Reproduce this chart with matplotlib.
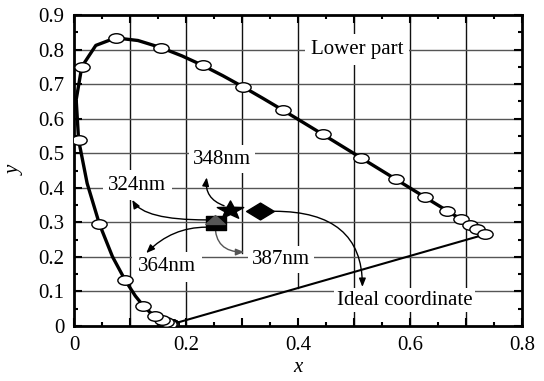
import numpy as np
import matplotlib
matplotlib.use("Agg")
import matplotlib.pyplot as plt
from matplotlib.path import Path
from matplotlib.transforms import Affine2D
from matplotlib.markers import MarkerStyle
from matplotlib.ticker import MultipleLocator, FuncFormatter

# CIE 1931 spectral locus, 380-700 nm (5 nm steps)
locus_nm = [380, 385, 390, 395, 400, 405, 410, 415, 420, 425, 430, 435, 440, 445,
            450, 455, 460, 465, 470, 475, 480, 485, 490, 495, 500, 505, 510, 515,
            520, 525, 530, 535, 540, 545, 550, 555, 560, 565, 570, 575, 580, 585,
            590, 595, 600, 605, 610, 615, 620, 625, 630, 635, 640, 645, 650, 655,
            660, 665, 670, 675, 680, 700]
locus_x = [0.1741, 0.1740, 0.1738, 0.1736, 0.1733, 0.1730, 0.1726, 0.1721, 0.1714,
           0.1703, 0.1689, 0.1669, 0.1644, 0.1611, 0.1566, 0.1510, 0.1440, 0.1355,
           0.1241, 0.1096, 0.0913, 0.0687, 0.0454, 0.0235, 0.0082, 0.0039, 0.0139,
           0.0389, 0.0743, 0.1142, 0.1547, 0.1929, 0.2296, 0.2658, 0.3016, 0.3373,
           0.3731, 0.4087, 0.4441, 0.4788, 0.5125, 0.5448, 0.5752, 0.6029, 0.6270,
           0.6482, 0.6658, 0.6801, 0.6915, 0.7006, 0.7079, 0.7140, 0.7190, 0.7230,
           0.7260, 0.7283, 0.7300, 0.7311, 0.7320, 0.7327, 0.7334, 0.7347]
locus_y = [0.0050, 0.0050, 0.0049, 0.0049, 0.0048, 0.0048, 0.0048, 0.0048, 0.0051,
           0.0058, 0.0069, 0.0086, 0.0109, 0.0138, 0.0177, 0.0227, 0.0297, 0.0399,
           0.0578, 0.0868, 0.1327, 0.2007, 0.2950, 0.4127, 0.5384, 0.6548, 0.7502,
           0.8120, 0.8338, 0.8262, 0.8059, 0.7816, 0.7543, 0.7243, 0.6923, 0.6589,
           0.6245, 0.5896, 0.5547, 0.5202, 0.4866, 0.4544, 0.4242, 0.3965, 0.3725,
           0.3514, 0.3340, 0.3197, 0.3083, 0.2993, 0.2920, 0.2859, 0.2809, 0.2770,
           0.2740, 0.2717, 0.2700, 0.2689, 0.2680, 0.2673, 0.2666, 0.2653]

# Wavelengths marked with open ellipses along the locus
marked_nm = [380, 390, 400, 410, 420, 430, 440, 450, 460, 470, 480, 490, 500, 510,
             520, 530, 540, 550, 560, 570, 580, 590, 600, 610, 620, 630, 640, 700]

# Chromaticity coordinates of the samples
sq_xy = (0.254, 0.297)      # 324 nm / 364 nm
tri_xy = (0.252, 0.305)     # 387 nm
star_xy = (0.279, 0.336)    # 348 nm
ideal_xy = (0.333, 0.332)   # ideal white

x_ticks = [0.0, 0.1, 0.2, 0.3, 0.4, 0.5, 0.6, 0.7, 0.8]
y_ticks = [0.0, 0.1, 0.2, 0.3, 0.4, 0.5, 0.6, 0.7, 0.8, 0.9]

plt.rcParams['font.family'] = ['Liberation Serif', 'DejaVu Serif']


def wide(path, sx):
    return MarkerStyle(path.transformed(Affine2D().scale(sx, 1.0)))


ellipse_m = wide(Path.unit_circle(), 1.6)
square_m = wide(Path.unit_rectangle().transformed(Affine2D().translate(-0.5, -0.5)), 1.6)
diamond_m = wide(Path([(0, 1), (1, 0), (0, -1), (-1, 0), (0, 1)],
                      [Path.MOVETO, Path.LINETO, Path.LINETO, Path.LINETO, Path.CLOSEPOLY]), 1.65)
star_m = wide(Path.unit_regular_star(5, 0.42), 1.45)
tri_m = wide(Path.unit_regular_polygon(3), 1.9)

fig = plt.figure(figsize=(5.44, 3.81), dpi=100)
ax = fig.add_axes([74 / 544, 1 - 326 / 381, 448 / 544, 311 / 381])
ax.set_xlim(0, 0.8)
ax.set_ylim(0, 0.9)

# Grid (two vertical lines stop short above the line of purples)
v_lo = {0.3: 0.21, 0.4: 0.11}
for v in x_ticks[1:-1]:
    ax.plot([v, v], [v_lo.get(round(v, 1), 0.0), 0.9], color='#111111', lw=1.0, zorder=1)
for v in y_ticks[1:-1]:
    ax.axhline(v, color='#555555', lw=1.0, zorder=1)

# Spectral locus and line of purples
ax.plot(locus_x, locus_y, color='black', lw=2.4, zorder=3, solid_joinstyle='round')
ax.plot([locus_x[0], locus_x[-1]], [locus_y[0], locus_y[-1]], color='black', lw=1.5, zorder=3)

mx = [locus_x[locus_nm.index(w)] for w in marked_nm]
my = [locus_y[locus_nm.index(w)] for w in marked_nm]
ax.plot(mx, my, ls='none', marker=ellipse_m, ms=11, mfc='white', mec='black',
        mew=1.0, zorder=4)

# Sample points
ax.plot(*sq_xy, ls='none', marker=square_m, ms=15, mfc='black', mec='black', zorder=6)
ax.plot(*tri_xy, ls='none', marker=tri_m, ms=14, mfc='#555555', mec='#555555', zorder=7)
ax.plot(*star_xy, ls='none', marker=star_m, ms=19, mfc='black', mec='black', zorder=6)
ax.plot(*ideal_xy, ls='none', marker=diamond_m, ms=20, mfc='black', mec='black', zorder=6)

tfs = 15


def note(text, xy, xytext, label_xy, conn, color='black', pad=2):
    ax.annotate('', xy=xytext, xytext=xy,
                arrowprops=dict(arrowstyle='-|>,head_length=0.5,head_width=0.2',
                                color=color, lw=1.0, shrinkA=0, shrinkB=0,
                                connectionstyle=conn),
                zorder=5)
    ax.text(*label_xy, text, fontsize=tfs, ha='center', va='center',
            bbox=dict(facecolor='white', edgecolor='none', pad=pad), zorder=2)


note('324nm', (0.236, 0.307), (0.104, 0.365), (0.113, 0.408),
     'angle3,angleA=0,angleB=120', pad=4)
note('348nm', (0.268, 0.348), (0.237, 0.430), (0.264, 0.483),
     'arc3,rad=-0.4', pad=3)
note('364nm', (0.236, 0.286), (0.129, 0.211), (0.166, 0.171),
     'angle3,angleA=0,angleB=45', pad=4)
note('387nm', (0.252, 0.292), (0.304, 0.214), (0.370, 0.193),
     'angle3,angleA=90,angleB=0', color='#555555', pad=3)
note('Ideal coordinate', (0.358, 0.332), (0.515, 0.113), (0.590, 0.075),
     'angle3,angleA=0,angleB=90', pad=2)

ax.text(0.505, 0.800, 'Lower part', fontsize=tfs, ha='center', va='center',
        bbox=dict(facecolor='white', edgecolor='none', pad=4), zorder=2)

ax.xaxis.set_major_locator(MultipleLocator(0.1))
ax.xaxis.set_minor_locator(MultipleLocator(0.05))
ax.yaxis.set_major_locator(MultipleLocator(0.1))
ax.yaxis.set_minor_locator(MultipleLocator(0.05))
ax.xaxis.set_major_formatter(FuncFormatter(
    lambda v, p: ('0' if abs(v) < 1e-9 else f'{v:.1f}') if round(v * 10) % 2 == 0 else ''))
ax.yaxis.set_major_formatter(FuncFormatter(
    lambda v, p: '0' if abs(v) < 1e-9 else f'{v:.1f}'))
ax.tick_params(which='both', direction='in', top=True, right=True,
               labelsize=tfs, width=1.5, colors='black')
ax.tick_params(which='major', length=6, pad=7)
ax.tick_params(which='minor', length=3)
for s in ax.spines.values():
    s.set_linewidth(2.0)

ax.set_xlabel('x', fontsize=tfs, style='italic', labelpad=2)
ax.set_ylabel('y', fontsize=tfs, style='italic', labelpad=10)

fig.savefig('out.png', dpi=100)
